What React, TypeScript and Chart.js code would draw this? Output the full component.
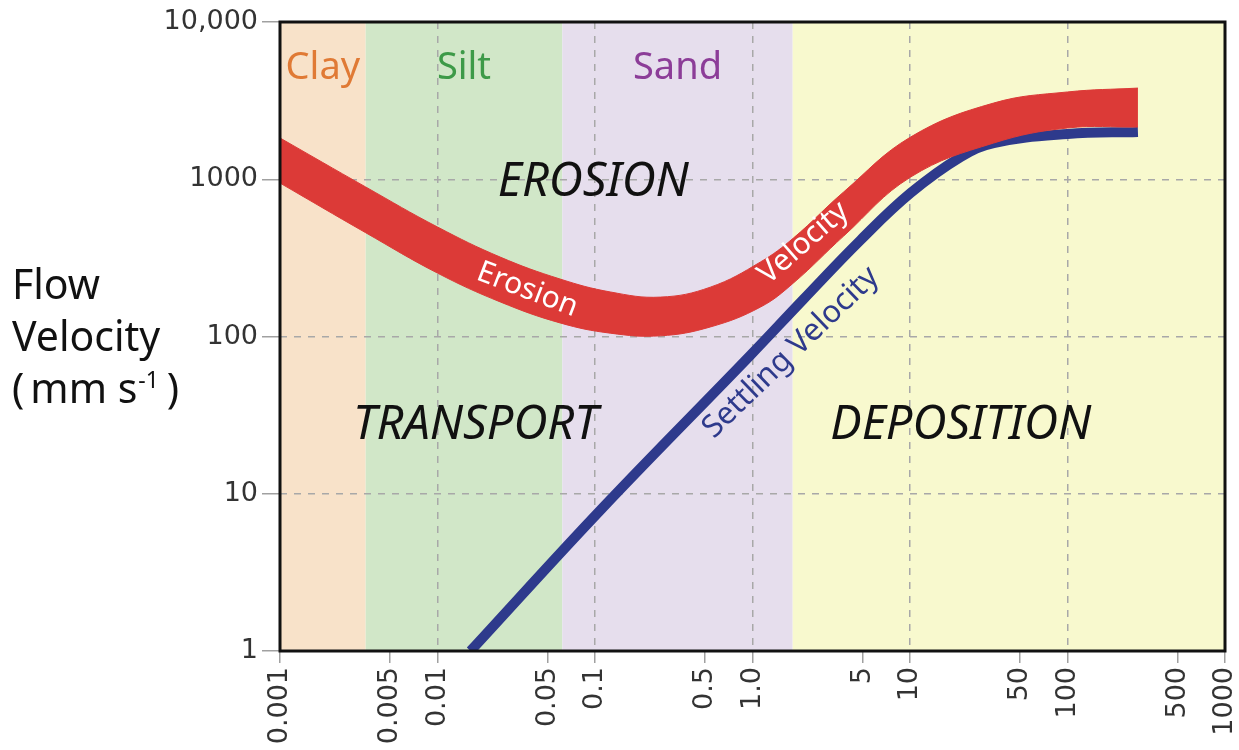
import React, { useEffect, useRef } from "react";
import { Chart, registerables } from "chart.js";

Chart.register(...registerables);

// ---- axes ----
const X_TICKS = [0.001, 0.005, 0.01, 0.05, 0.1, 0.5, 1, 5, 10, 50, 100, 500, 1000];
const X_TICK_LABELS = ["0.001", "0.005", "0.01", "0.05", "0.1", "0.5", "1.0", "5", "10", "50", "100", "500", "1000"];
const X_GRID = [0.01, 0.1, 1, 10, 100];
const Y_TICKS = [1, 10, 100, 1000, 10000];
const Y_TICK_LABELS = ["1", "10", "100", "1000", "10,000"];
const Y_GRID = [10, 100, 1000];

// ---- grain-size zones ----
const ZONE_NAMES = ["Clay", "Silt", "Sand", ""];
const ZONE_START = [0.001, 0.0035, 0.062, 1.8];
const ZONE_END = [0.0035, 0.062, 1.8, 1000];
const ZONE_FILLS = ["#F8E2C9", "#D1E7C8", "#E6DEED", "#F8F9CE"];
const ZONE_TEXT_COLORS = ["#E07A35", "#3D9A48", "#8C3D98", "#000000"];
const ZONE_LABEL_Y = 5100;

// ---- erosion velocity band ----
const EROSION_SIZE = [0.001, 0.0035, 0.01, 0.025, 0.06, 0.125, 0.26, 0.54, 1.125, 1.82, 3.79, 10.1, 34, 100, 280];
const EROSION_UPPER = [1830, 893, 497, 320, 232, 192, 178, 206, 298, 423, 830, 1857, 3053, 3590, 3800];
const EROSION_LOWER = [946, 457, 253, 166, 122, 105, 101, 115, 154, 219, 435, 1033, 1700, 2118, 2148];

// ---- settling velocity ----
const SETTLING_SIZE = [0.0162, 0.11, 0.97, 2.1, 4.86, 10.1, 21, 34, 100, 280];
const SETTLING_VEL = [1, 8, 76, 172, 411, 818, 1385, 1700, 1940, 2000];

// ---- region labels (data coordinates) ----
const REGION_LABELS = ["EROSION", "TRANSPORT", "DEPOSITION"];
const REGION_X = [0.0975, 0.0174, 21];
const REGION_Y = [947, 27, 27];

// ---- curve labels ----
const CURVE_LABELS = ["Erosion", "Velocity", "Settling Velocity"];
const CURVE_LABEL_X = [0.0372, 2.11, 1.75];
const CURVE_LABEL_Y = [198, 393, 79];
const CURVE_LABEL_ANGLE = [21, -41, -44];
const CURVE_LABEL_COLORS = ["#FFFFFF", "#FFFFFF", "#2E3A8C"];
const CURVE_LABEL_SIZES = [30, 30, 31];

const RED = "#DC3A37";
const BLUE = "#2E3A8C";
const FONT = "'Noto Sans', 'DejaVu Sans', sans-serif";
const TICK_FONT = "'DejaVu Sans', sans-serif";

const decorPlugin = {
  id: "decor",
  beforeDraw(chart: any) {
    const { ctx, chartArea, scales } = chart;
    const xs = scales.x;
    ctx.save();
    for (let i = 0; i < ZONE_START.length; i++) {
      const x0 = xs.getPixelForValue(ZONE_START[i]);
      const x1 = xs.getPixelForValue(ZONE_END[i]);
      ctx.fillStyle = ZONE_FILLS[i];
      ctx.fillRect(x0, chartArea.top, x1 - x0, chartArea.bottom - chartArea.top);
    }
    ctx.restore();
  },
  afterDatasetsDraw(chart: any) {
    const { ctx, chartArea, scales } = chart;
    const xs = scales.x;
    const ys = scales.y;
    ctx.save();
    ctx.textAlign = "center";
    ctx.textBaseline = "middle";
    // zone names
    ctx.font = `38px ${FONT}`;
    for (let i = 0; i < ZONE_NAMES.length; i++) {
      if (!ZONE_NAMES[i]) continue;
      const cx = xs.getPixelForValue(Math.sqrt(ZONE_START[i] * ZONE_END[i]));
      ctx.fillStyle = ZONE_TEXT_COLORS[i];
      ctx.fillText(ZONE_NAMES[i], cx, ys.getPixelForValue(ZONE_LABEL_Y));
    }
    // region labels
    ctx.font = `italic 47px ${FONT}`;
    ctx.fillStyle = "#111111";
    for (let i = 0; i < REGION_LABELS.length; i++) {
      ctx.fillText(REGION_LABELS[i], xs.getPixelForValue(REGION_X[i]), ys.getPixelForValue(REGION_Y[i]));
    }
    // curve labels
    for (let i = 0; i < CURVE_LABELS.length; i++) {
      ctx.save();
      ctx.font = `${CURVE_LABEL_SIZES[i]}px ${FONT}`;
      ctx.translate(xs.getPixelForValue(CURVE_LABEL_X[i]), ys.getPixelForValue(CURVE_LABEL_Y[i]));
      ctx.rotate((CURVE_LABEL_ANGLE[i] * Math.PI) / 180);
      ctx.fillStyle = CURVE_LABEL_COLORS[i];
      ctx.fillText(CURVE_LABELS[i], 0, 0);
      ctx.restore();
    }
    // plot frame
    ctx.strokeStyle = "#111111";
    ctx.lineWidth = 3;
    ctx.strokeRect(chartArea.left, chartArea.top, chartArea.right - chartArea.left, chartArea.bottom - chartArea.top);
    ctx.restore();
  },
  afterDraw(chart: any) {
    const { ctx } = chart;
    ctx.save();
    ctx.fillStyle = "#111111";
    ctx.textAlign = "left";
    ctx.textBaseline = "alphabetic";
    ctx.font = `41px ${FONT}`;
    ctx.fillText("Flow", 12, 299);
    ctx.fillText("Velocity", 12, 351);
    let x = 12;
    ctx.fillText("(", x, 403);
    x += ctx.measureText("(").width + 6;
    ctx.fillText("mm s", x, 403);
    x += ctx.measureText("mm s").width;
    ctx.font = `23px ${FONT}`;
    ctx.fillText("-1", x + 1, 388);
    x += ctx.measureText("-1").width + 9;
    ctx.font = `41px ${FONT}`;
    ctx.fillText(")", x, 403);
    ctx.restore();
  },
};

export default function App() {
  const canvasRef = useRef<HTMLCanvasElement | null>(null);

  useEffect(() => {
    if (!canvasRef.current) return;
    const chart = new Chart(canvasRef.current, {
      type: "line",
      data: {
        datasets: [
          {
            label: "Erosion velocity (upper)",
            data: EROSION_SIZE.map((g, i) => ({ x: g, y: EROSION_UPPER[i] })),
            borderColor: RED,
            borderWidth: 1,
            pointRadius: 0,
            fill: false,
            tension: 0.4,
            clip: 0,
          },
          {
            label: "Erosion velocity (lower)",
            data: EROSION_SIZE.map((g, i) => ({ x: g, y: EROSION_LOWER[i] })),
            borderColor: RED,
            backgroundColor: RED,
            borderWidth: 1,
            pointRadius: 0,
            fill: "-1",
            tension: 0.4,
            clip: 0,
          },
          {
            label: "Settling velocity",
            data: SETTLING_SIZE.map((g, i) => ({ x: g, y: SETTLING_VEL[i] })),
            borderColor: BLUE,
            borderWidth: 10,
            borderCapStyle: "butt",
            pointRadius: 0,
            fill: false,
            tension: 0.4,
            clip: 0,
          },
        ],
      } as any,
      options: {
        responsive: false,
        animation: false,
        devicePixelRatio: 1,
        layout: { padding: { top: 22, right: 14, left: 0, bottom: 0 } },
        plugins: { legend: { display: false }, tooltip: { enabled: false } },
        scales: {
          x: {
            type: "logarithmic",
            min: 0.001,
            max: 1000,
            afterBuildTicks: (s: any) => {
              s.ticks = X_TICKS.map((v) => ({ value: v }));
            },
            afterFit: (s: any) => {
              s.height = 99;
              s.paddingLeft = 0;
              s.paddingRight = 0;
            },
            ticks: {
              autoSkip: false,
              minRotation: 90,
              maxRotation: 90,
              padding: 4,
              color: "#333333",
              font: { family: TICK_FONT, size: 27 },
              callback: (_v: any, i: number) => X_TICK_LABELS[i],
            },
            grid: {
              color: (c: any) => (c.tick && X_GRID.includes(c.tick.value) ? "#A8A8A8" : "rgba(0,0,0,0)"),
              lineWidth: 1.5,
              tickLength: 12,
              tickColor: "#A0A0A0",
              tickWidth: 1.5,
              tickBorderDash: [],
            },
            border: { display: false, dash: [7, 7] },
          },
          y: {
            type: "logarithmic",
            min: 1,
            max: 10000,
            afterBuildTicks: (s: any) => {
              s.ticks = Y_TICKS.map((v) => ({ value: v }));
            },
            afterFit: (s: any) => {
              s.width = 280;
              s.paddingTop = 0;
              s.paddingBottom = 0;
            },
            ticks: {
              padding: 4,
              color: "#333333",
              font: { family: TICK_FONT, size: 27 },
              callback: (_v: any, i: number) => Y_TICK_LABELS[i],
            },
            grid: {
              color: (c: any) => (c.tick && Y_GRID.includes(c.tick.value) ? "#A8A8A8" : "rgba(0,0,0,0)"),
              lineWidth: 1.5,
              tickLength: 18,
              tickColor: "#A0A0A0",
              tickWidth: 1.5,
              tickBorderDash: [],
            },
            border: { display: false, dash: [7, 7] },
          },
        },
      } as any,
      plugins: [decorPlugin],
    });
    return () => chart.destroy();
  }, []);

  return (
    <div style={{ position: "absolute", left: 0, top: 0, width: 1239, height: 750, background: "#ffffff" }}>
      <canvas ref={canvasRef} width={1239} height={750} />
    </div>
  );
}
